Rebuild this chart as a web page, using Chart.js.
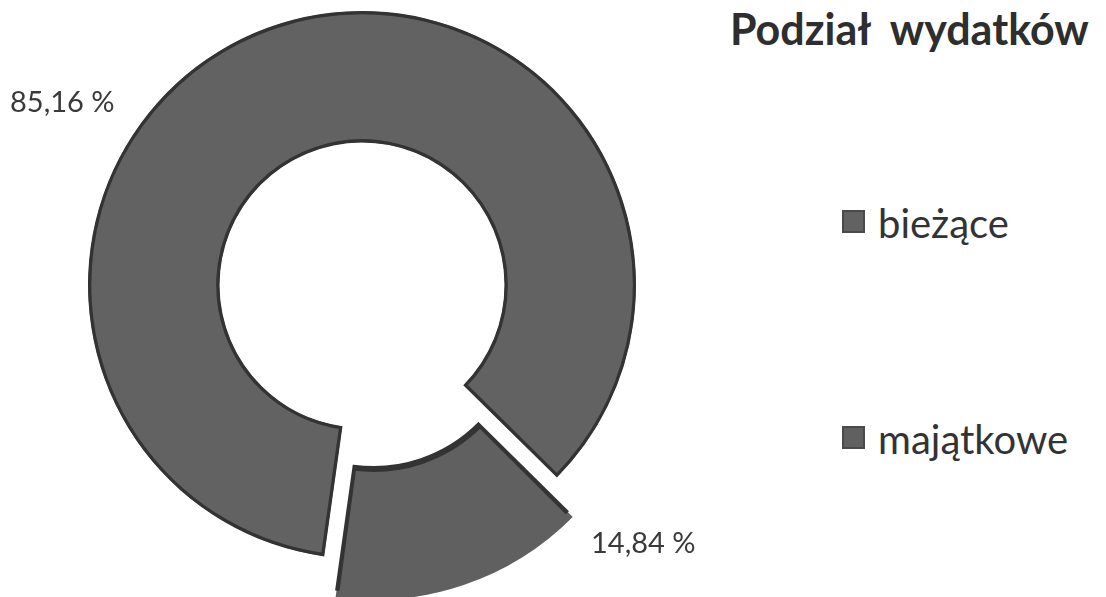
<!DOCTYPE html>
<html lang="pl">
<head>
<meta charset="utf-8">
<title>Podział wydatków</title>
<script src="https://cdn.jsdelivr.net/npm/chart.js@4.4.1/dist/chart.umd.min.js"></script>
<style>
  html, body { margin: 0; padding: 0; background: #fff; }
  body { width: 1106px; height: 597px; position: relative; overflow: hidden; font-family: Lato, "Open Sans", sans-serif; color: #333; }
  #wrap { position: absolute; left: 0; top: 0; width: 724px; height: 597px; }
  #title { position: absolute; left: 730px; top: 3px; font-size: 43px; font-weight: bold; white-space: pre; color: #2e2e2e; }
  .legend { position: absolute; left: 842px; font-size: 40px; white-space: nowrap; }
  .legend span.box { display: inline-block; width: 23px; height: 23px; margin-right: 13px; vertical-align: 5px; box-sizing: border-box; border: 2px solid #4a4a4a; }
  .pct { position: absolute; font-size: 29px; white-space: nowrap; color: #3a3a3a; }
</style>
</head>
<body>
<div id="wrap"><canvas id="myChart"></canvas></div>
<div id="title"></div>
<div id="legendBox"></div>
<div id="pctBox"></div>
<script>
'use strict';
let chartTitle = 'Podział  wydatków';
let categories = ['bieżące', 'majątkowe'];
let shares = [85.16, 14.84];
let sliceColors = ['#626262', '#606060'];
// chart.js draws offset/4, so 144 -> ~36px explode
let sliceOffsets = [0, 144];

// where the html texts go (legend rows, percent labels)
let legendTops = [199, 415];
let pctPlaces = [[10, 83], [591, 524]];

document.getElementById('title').textContent = chartTitle;

let ctx = document.getElementById('myChart').getContext('2d');
let chart = new Chart(ctx, {
    type: 'doughnut',
    data: {
        labels: categories,
        datasets: [{
            data: shares,
            backgroundColor: sliceColors,
            borderColor: '#333333',
            borderWidth: 3,
            borderJoinStyle: 'miter',
            borderAlign: 'inner',
            offset: sliceOffsets,
            radius: 274
        }]
    },
    options: {
        responsive: true,
        maintainAspectRatio: false,
        animation: false,
        rotation: 188,
        cutout: '52%',
        // keep the ring centre at y=285 but let the exploded slice run to the bottom edge
        layout: { padding: { bottom: 27 } },
        plugins: {
            legend: { display: false },
            title: { display: false },
            tooltip: { enabled: false }
        }
    }
});

// legend built from the chart's own labels/colours
let legendBox = document.getElementById('legendBox');
for (let i = 0; i < categories.length; i++) {
    let row = document.createElement('div');
    row.className = 'legend';
    row.style.top = legendTops[i] + 'px';
    let box = document.createElement('span');
    box.className = 'box';
    box.style.background = chart.data.datasets[0].backgroundColor[i];
    row.appendChild(box);
    row.appendChild(document.createTextNode(categories[i]));
    legendBox.appendChild(row);
}

// percent labels
let pctBox = document.getElementById('pctBox');
for (let i = 0; i < shares.length; i++) {
    let el = document.createElement('div');
    el.className = 'pct';
    el.style.left = pctPlaces[i][0] + 'px';
    el.style.top = pctPlaces[i][1] + 'px';
    el.textContent = shares[i].toFixed(2).replace('.', ',') + ' %';
    pctBox.appendChild(el);
}
</script>
</body>
</html>
